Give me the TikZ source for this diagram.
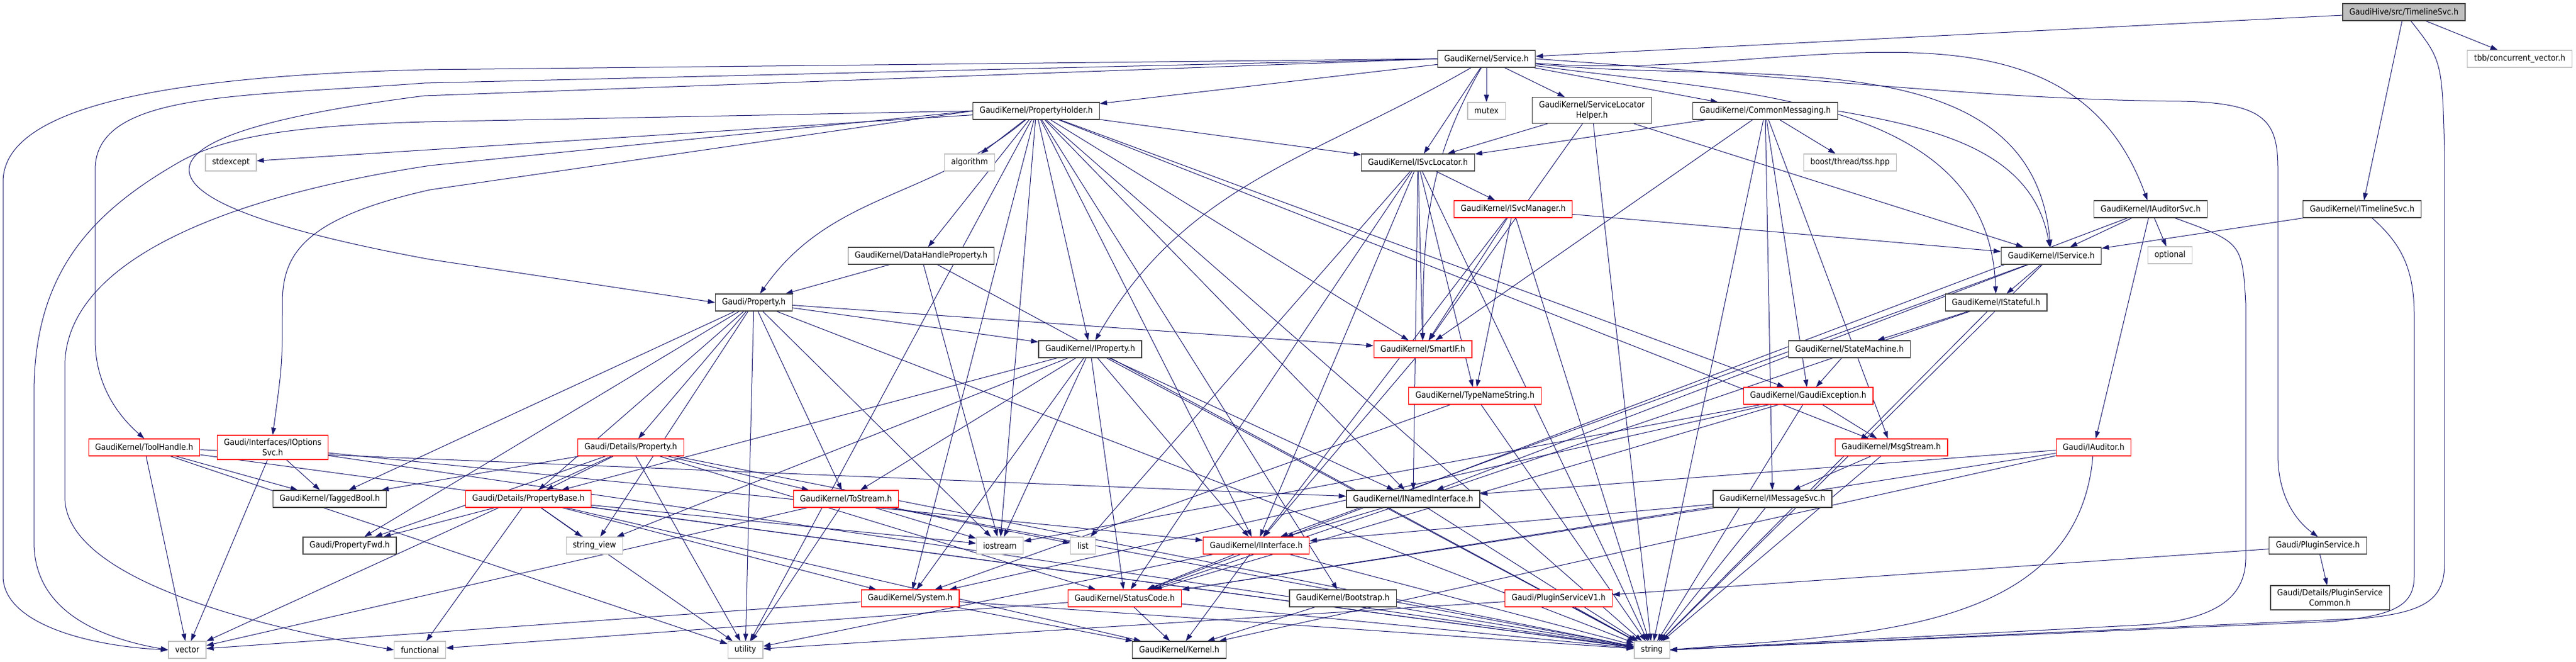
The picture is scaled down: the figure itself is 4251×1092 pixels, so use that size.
\documentclass[tikz,border=0pt]{standalone}
\usepackage{fontspec}
\setmainfont{DejaVu Sans}[FakeStretch=0.9]
\usetikzlibrary{arrows.meta}
\definecolor{linkblue}{HTML}{191970}
\definecolor{framegray}{HTML}{404040}
\definecolor{sysgray}{HTML}{BFBFBF}
\definecolor{cutred}{HTML}{FF0000}
\pgfdeclarelayer{bg}
\pgfsetlayers{bg,main}

\tikzset{
  file/.style={draw=framegray, line width=1.2pt, fill=white, inner xsep=11pt, inner ysep=6pt,
    minimum height=28pt, align=center, font=\fontsize{14}{17}\selectfont},
  cutfile/.style={file, draw=cutred},
  sysfile/.style={file, draw=sysgray},
  inc/.style={draw=linkblue, line width=1pt, -{Triangle[length=12pt,width=8pt]}},
}

\begin{document}
\begin{tikzpicture}[x=1pt,y=-1pt]
\useasboundingbox (0,0) rectangle (4251,1092);

%% files
\node[file, fill=sysgray] (tl) at (3967,20) {GaudiHive/src/TimelineSvc.h};
\node[file] (svc) at (2453,97) {GaudiKernel/Service.h};
\node[sysfile] (tbb) at (4158,97) {tbb/concurrent\_vector.h};
\node[file] (phold) at (1710,183) {GaudiKernel/PropertyHolder.h};
\node[sysfile] (mutex) at (2453,183) {mutex};
\node[file] (slh) at (2627,182) {GaudiKernel/ServiceLocator\\Helper.h};
\node[file] (cmsg) at (2913,183) {GaudiKernel/CommonMessaging.h};
\node[sysfile] (stdexc) at (381,268) {stdexcept};
\node[sysfile] (algo) at (1600,268) {algorithm};
\node[file] (isl) at (2340,268) {GaudiKernel/ISvcLocator.h};
\node[sysfile] (boost) at (3053,268) {boost/thread/tss.hpp};
\node[cutfile] (ism) at (2497,345) {GaudiKernel/ISvcManager.h};
\node[file] (iasvc) at (3549,345) {GaudiKernel/IAuditorSvc.h};
\node[file] (itl) at (3898,345) {GaudiKernel/ITimelineSvc.h};
\node[file] (dhp) at (1520,422) {GaudiKernel/DataHandleProperty.h};
\node[file] (iserv) at (3385,422) {GaudiKernel/IService.h};
\node[sysfile] (opt) at (3581,421) {optional};
\node[file] (gprop) at (1244,499) {Gaudi/Property.h};
\node[file] (istate) at (3294,499) {GaudiKernel/IStateful.h};
\node[file] (iprop) at (1799,576) {GaudiKernel/IProperty.h};
\node[cutfile] (smart) at (2348,576) {GaudiKernel/SmartIF.h};
\node[file] (sm) at (3052,576) {GaudiKernel/StateMachine.h};
\node[cutfile] (tns) at (2434,653) {GaudiKernel/TypeNameString.h};
\node[cutfile] (gexc) at (2984,653) {GaudiKernel/GaudiException.h};
\node[cutfile] (th) at (238,738) {GaudiKernel/ToolHandle.h};
\node[cutfile] (iopt) at (450,738) {Gaudi/Interfaces/IOptions\\Svc.h};
\node[cutfile] (dprop) at (1041,738) {Gaudi/Details/Property.h};
\node[cutfile] (msg) at (3121,738) {GaudiKernel/MsgStream.h};
\node[cutfile] (iaud) at (3455,738) {Gaudi/IAuditor.h};
\node[file] (tb) at (544,823) {GaudiKernel/TaggedBool.h};
\node[cutfile] (pbase) at (872,823) {Gaudi/Details/PropertyBase.h};
\node[cutfile] (tos) at (1396,823) {GaudiKernel/ToStream.h};
\node[file] (inamed) at (2332,823) {GaudiKernel/INamedInterface.h};
\node[file] (imsg) at (2925,823) {GaudiKernel/IMessageSvc.h};
\node[file] (pfwd) at (577,900) {Gaudi/PropertyFwd.h};
\node[sysfile] (sv) at (981,900) {string\_view};
\node[sysfile] (ios) at (1650,900) {iostream};
\node[sysfile] (list) at (1787,900) {list};
\node[cutfile] (iif) at (2073,900) {GaudiKernel/IInterface.h};
\node[file] (plug) at (3825,900) {Gaudi/PluginService.h};
\node[cutfile] (sys) at (1502,987) {GaudiKernel/System.h};
\node[cutfile] (sc) at (1856,987) {GaudiKernel/StatusCode.h};
\node[file] (boot) at (2216,987) {GaudiKernel/Bootstrap.h};
\node[cutfile] (pv1) at (2572,987) {Gaudi/PluginServiceV1.h};
\node[file] (pcommon) at (3845,986) {Gaudi/Details/PluginService\\Common.h};
\node[sysfile] (vector) at (309,1072) {vector};
\node[sysfile] (functional) at (693,1072) {functional};
\node[sysfile] (utility) at (1230,1072) {utility};
\node[file] (kernel) at (1946,1072) {GaudiKernel/Kernel.h};
\node[sysfile] (string) at (2726,1072) {string};

\begin{pgfonlayer}{bg}
%% long routes
\draw[inc] (svc.west) -- (700,115) .. controls (300,125) and (5,170) .. (5,300) -- (5,950) .. controls (5,1030) and (150,1066) .. (vector.west);
\draw[inc] (svc.west) -- (700,137) .. controls (400,160) and (157,150) .. (157,280) -- (157,560) .. controls (157,640) and (200,690) .. (th.north);
\draw[inc] (svc.west) -- (700,158) .. controls (450,190) and (312,230) .. (312,280) .. controls (312,330) and (450,380) .. (710,428) -- (gprop.west);
\draw[inc] (phold.west) -- (700,201) .. controls (500,207) and (380,222) .. (300,265) .. controls (150,350) and (56,450) .. (56,650) -- (56,894) .. controls (56,1000) and (150,1050) .. (vector.west);
\draw[inc] (phold.west) -- (710,273) .. controls (400,320) and (112,420) .. (107,600) -- (107,820) .. controls (107,950) and (400,1030) .. (functional.west);
\draw[inc] (phold.west) -- (710,313) .. controls (500,360) and (466,420) .. (466,500) .. controls (466,600) .. (iopt.north);
\draw[inc] (tl) .. controls (4030,100) .. (4034,250) -- (4034,930) .. controls (4034,990) and (4000,1010) .. (3900,1020) -- (string.east);
\draw[inc] (itl) .. controls (3960,400) and (3984,440) .. (3984,520) -- (3984,950) .. controls (3984,1000) and (3950,1015) .. (3850,1025) -- (string.east);
\draw[inc] (svc.east) .. controls (3000,130) and (3300,165) .. (3600,167) .. controls (3740,170) and (3759,200) .. (3759,280) -- (3759,750) .. controls (3759,820) and (3790,860) .. (plug.north);
\draw[inc] (iasvc) .. controls (3700,400) .. (3706,500) -- (3706,920) .. controls (3706,990) and (3650,1020) .. (3550,1030) -- (string.east);
\draw[inc] (iaud) to[out=-95,in=5] (string.east);
\draw[inc] (svc) to[out=-5,in=110] (iasvc);
\draw[inc] (svc) to[out=-150,in=60] (iprop);
\draw[inc] (svc) to[out=-120,in=90] (smart);
\draw[inc] (svc) to[out=-6,in=95] (iserv);
\draw[inc] (svc) to[out=-8,in=92] (istate);
\draw[inc] (cmsg.east) to[out=-10,in=100] (iserv);
\draw[inc] (phold) to[out=-140,in=55] (gprop);

%% TimelineSvc.h and Service.h
\draw[inc] (tl) -- (svc); \draw[inc] (tl) -- (itl); \draw[inc] (tl) -- (tbb);
\draw[inc] (svc) -- (phold); \draw[inc] (svc) -- (mutex); \draw[inc] (svc) -- (slh);
\draw[inc] (svc) -- (cmsg); \draw[inc] (svc) -- (isl);

%% PropertyHolder.h
\draw[inc] (phold) -- (stdexc); \draw[inc] (phold) -- (algo); \draw[inc] (phold) -- (dhp);
\draw[inc] (phold) -- (iprop); \draw[inc] (phold) -- (isl);
\draw[inc] (phold) -- (smart); \draw[inc] (phold) -- (inamed); \draw[inc] (phold) -- (sys);
\draw[inc] (phold) -- (iif); \draw[inc] (phold) -- (gexc); \draw[inc] (phold) -- (msg);
\draw[inc] (phold) -- (boot); \draw[inc] (phold) -- (ios); \draw[inc] (phold) -- (utility);
\draw[inc] (phold) -- (string);

%% properties
\draw[inc] (gprop) -- (dprop); \draw[inc] (gprop) -- (pbase); \draw[inc] (gprop) -- (tb);
\draw[inc] (gprop) -- (pfwd); \draw[inc] (gprop) -- (sv); \draw[inc] (gprop) -- (iprop);
\draw[inc] (gprop) -- (smart); \draw[inc] (gprop) -- (tos); \draw[inc] (gprop) -- (utility);
\draw[inc] (gprop) -- (string); \draw[inc] (gprop) -- (ios);
\draw[inc] (dhp) -- (gprop); \draw[inc] (dhp) -- (ios); \draw[inc] (dhp) -- (string);
\draw[inc] (iprop) -- (pbase); \draw[inc] (iprop) -- (tos); \draw[inc] (iprop) -- (ios);
\draw[inc] (iprop) -- (iif); \draw[inc] (iprop) -- (inamed); \draw[inc] (iprop) -- (string);
\draw[inc] (iprop) -- (sys); \draw[inc] (iprop) -- (sv); \draw[inc] (iprop) -- (sc);
\draw[inc] (dprop) -- (pbase); \draw[inc] (dprop) -- (tos); \draw[inc] (dprop) -- (tb);
\draw[inc] (dprop) -- (pfwd); \draw[inc] (dprop) -- (utility); \draw[inc] (dprop) -- (string);
\draw[inc] (dprop) -- (vector); \draw[inc] (dprop) -- (sc);
\draw[inc] (pbase) -- (sv); \draw[inc] (pbase) -- (pfwd); \draw[inc] (pbase) -- (utility);
\draw[inc] (pbase) -- (string); \draw[inc] (pbase) -- (functional); \draw[inc] (pbase) -- (sys);
\draw[inc] (pbase) -- (ios); \draw[inc] (pbase) -- (kernel);
\draw[inc] (tos) -- (ios); \draw[inc] (tos) -- (list); \draw[inc] (tos) -- (vector);
\draw[inc] (tos) -- (utility); \draw[inc] (tos) -- (string);
\draw[inc] (th) -- (vector); \draw[inc] (th) -- (tb); \draw[inc] (th) -- (inamed);
\draw[inc] (th) -- (utility); \draw[inc] (th) -- (string);
\draw[inc] (iopt) -- (vector); \draw[inc] (iopt) -- (tb); \draw[inc] (iopt) -- (iif);
\draw[inc] (iopt) -- (string);

%% service locator
\draw[inc] (isl) -- (smart); \draw[inc] (isl) -- (ism); \draw[inc] (isl) -- (tns);
\draw[inc] (isl) -- (list); \draw[inc] (isl) -- (iif); \draw[inc] (isl) -- (inamed);
\draw[inc] (isl) -- (sc); \draw[inc] (isl) -- (string);
\draw[inc] (ism) -- (smart); \draw[inc] (ism) -- (tns); \draw[inc] (ism) -- (iserv);
\draw[inc] (ism) -- (string); \draw[inc] (ism) -- (iif);
\draw[inc] (slh) -- (isl); \draw[inc] (slh) -- (smart); \draw[inc] (slh) -- (iserv);
\draw[inc] (slh) -- (string);

%% messaging
\draw[inc] (cmsg) -- (isl); \draw[inc] (cmsg) -- (smart);
\draw[inc] (cmsg) -- (boost); \draw[inc] (cmsg) -- (gexc); \draw[inc] (cmsg) -- (msg);
\draw[inc] (cmsg) -- (imsg); \draw[inc] (cmsg) -- (string);
\draw[inc] (gexc) -- (msg); \draw[inc] (gexc) -- (sys); \draw[inc] (gexc) -- (ios);
\draw[inc] (gexc) -- (string); \draw[inc] (gexc) -- (sc);
\draw[inc] (msg) -- (imsg); \draw[inc] (msg) -- (string);
\draw[inc] (imsg) -- (iif); \draw[inc] (imsg) -- (sc); \draw[inc] (imsg) -- (string);

%% services
\draw[inc] (iasvc) -- (iserv); \draw[inc] (iasvc) -- (iaud); \draw[inc] (iasvc) -- (opt);
\draw[inc] (iasvc) -- (sc);
\draw[inc] (itl) -- (iserv);
\draw[inc] (iserv) -- (istate); \draw[inc] (iserv) -- (iif); \draw[inc] (iserv) -- (inamed);
\draw[inc] (iserv) -- (string);
\draw[inc] (istate) -- (sm); \draw[inc] (istate) -- (sc); \draw[inc] (istate) -- (string);
\draw[inc] (sm) -- (gexc);
\draw[inc] (iaud) -- (inamed); \draw[inc] (iaud) -- (sc); \draw[inc] (iaud) -- (kernel);

%% interfaces and basics
\draw[inc] (smart) -- (iif);
\draw[inc] (tns) -- (sys); \draw[inc] (tns) -- (string);
\draw[inc] (inamed) -- (iif); \draw[inc] (inamed) -- (string);
\draw[inc] (iif) -- (sc); \draw[inc] (iif) -- (kernel); \draw[inc] (iif) -- (string);
\draw[inc] (iif) -- (utility);
\draw[inc] (sys) -- (vector); \draw[inc] (sys) -- (kernel); \draw[inc] (sys) -- (string);
\draw[inc] (sc) -- (kernel); \draw[inc] (sc) -- (functional); \draw[inc] (sc) -- (string);
\draw[inc] (boot) -- (kernel); \draw[inc] (boot) -- (string);
\draw[inc] (plug) -- (pv1); \draw[inc] (plug) -- (pcommon);
\draw[inc] (pv1) -- (string); \draw[inc] (pv1) -- (utility);
\end{pgfonlayer}

\end{tikzpicture}
\end{document}
